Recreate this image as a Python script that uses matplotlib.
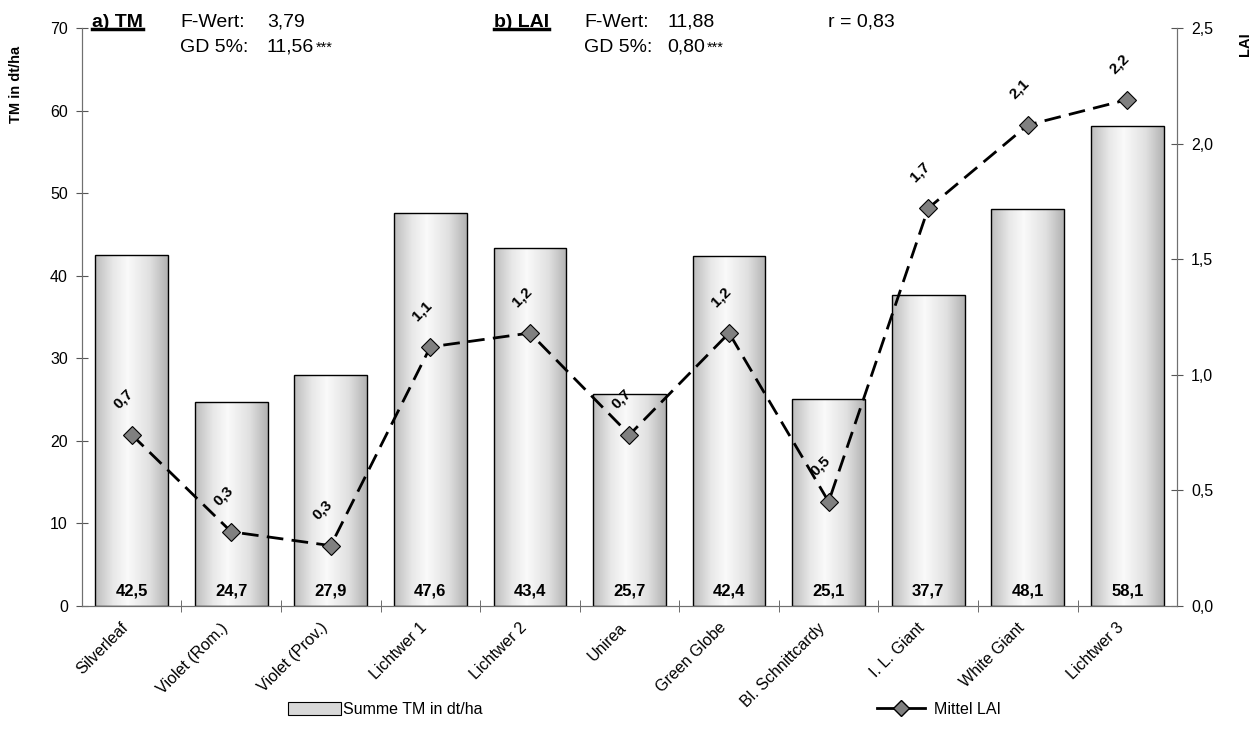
import matplotlib
matplotlib.use("Agg")
import matplotlib.pyplot as plt
import matplotlib.transforms as mtransforms
import numpy as np
from matplotlib.lines import Line2D
from matplotlib.patches import Rectangle

plt.rcParams["font.family"] = ["Liberation Sans", "DejaVu Sans"]
plt.rcParams["font.size"] = 11

sorten = ["Silverleaf", "Violet (Rom.)", "Violet (Prov.)", "Lichtwer 1", "Lichtwer 2", "Unirea",
          "Green Globe", "Bl. Schnittcardy", "I. L. Giant", "White Giant", "Lichtwer 3"]
tm = [42.5, 24.7, 27.9, 47.6, 43.4, 25.7, 42.4, 25.1, 37.7, 48.1, 58.1]
lai = [0.74, 0.32, 0.26, 1.12, 1.18, 0.74, 1.18, 0.45, 1.72, 2.08, 2.19]


def de(v, digits=1):
    return f"{v:.{digits}f}".replace(".", ",")


fig = plt.figure(figsize=(12.59, 7.36), dpi=100)
ax = fig.add_axes([0.065, 0.177, 0.870, 0.785])
ax2 = ax.twinx()

x = np.arange(len(sorten))
bars = ax.bar(x, tm, width=0.73, color="none", edgecolor="black", linewidth=1.0, zorder=2)

# horizontal gradient inside each bar
grad_cols = np.array([0.74, 0.91, 0.98, 0.88, 0.70])
stops = [0.0, 0.25, 0.45, 0.75, 1.0]
pos = np.linspace(0, 1, 200)
g = np.interp(pos, stops, grad_cols)
grad = np.stack([g, g, g], axis=-1)[None, :, :]
for b in bars:
    x0, w, h = b.get_x(), b.get_width(), b.get_height()
    im = ax.imshow(grad, extent=[x0, x0 + w, 0, h], aspect="auto", zorder=1, interpolation="bilinear")
    im.set_clip_path(b)

for xi, v in zip(x, tm):
    ax.annotate(de(v), (xi, 0), xytext=(0, 5), textcoords="offset points", ha="center", va="bottom",
                fontweight="bold", fontsize=12, zorder=5)

ax.set_xlim(-0.5, len(sorten) - 0.5)
ax.set_ylim(0, 70)
ax.set_yticks(range(0, 71, 10))
ax.set_xticks(x)
ax.set_xticks(x[:-1] + 0.5, minor=True)
ax.tick_params(axis="x", which="major", length=0, pad=6)
ax.tick_params(axis="x", which="minor", length=8, direction="inout", color="#555555")
ax.tick_params(axis="y", length=8, direction="inout", color="#555555", labelsize=11.5, pad=6)
ax.set_xticklabels(sorten, rotation=45, ha="right", va="top", rotation_mode="anchor", fontsize=11.5)
shift = mtransforms.ScaledTranslation(-11 / 100, -6 / 100, fig.dpi_scale_trans)
for lbl in ax.xaxis.get_majorticklabels():
    lbl.set_transform(lbl.get_transform() + shift)

ax2.plot(x, lai, linestyle=(0, (6, 3)), color="black", linewidth=2.0, marker="D", markersize=9,
         markerfacecolor="#808080", markeredgecolor="black", markeredgewidth=0.8, zorder=4)
for xi, v in zip(x, lai):
    ax2.annotate(de(v), (xi, v), xytext=(-6, 26), textcoords="offset points", ha="center", va="center",
                 rotation=45, fontweight="bold", fontsize=11)
ax2.set_ylim(0, 2.5)
ax2.set_yticks(np.arange(0, 2.51, 0.5))
ax2.set_yticklabels([de(t) for t in np.arange(0, 2.51, 0.5)])
ax2.tick_params(axis="y", length=8, direction="inout", color="#555555", labelsize=11.5, pad=6)

for a in (ax, ax2):
    a.spines["top"].set_visible(False)
    for s in ("left", "right", "bottom"):
        a.spines[s].set_color("#707070")

# axis titles near the top
fig.text(0.013, 0.885, "TM in dt/ha", rotation=90, fontweight="bold", ha="center", va="center", fontsize=10.5)
fig.text(0.989, 0.94, "LAI", rotation=90, fontweight="bold", ha="center", va="center", fontsize=10.5)

# statistics header
hdr = 14
ta = fig.text(0.073, 0.970, "a) TM", fontweight="bold", fontsize=hdr, ha="left", va="center")
tb = fig.text(0.392, 0.970, "b) LAI", fontweight="bold", fontsize=hdr, ha="left", va="center")
fig.text(0.143, 0.970, "F-Wert:", fontsize=hdr, ha="left", va="center")
fig.text(0.212, 0.970, "3,79", fontsize=hdr, ha="left", va="center")
fig.text(0.143, 0.936, "GD 5%:", fontsize=hdr, ha="left", va="center")
t1 = fig.text(0.212, 0.936, "11,56", fontsize=hdr, ha="left", va="center")
fig.text(0.4645, 0.970, "F-Wert:", fontsize=hdr, ha="left", va="center")
fig.text(0.530, 0.970, "11,88", fontsize=hdr, ha="left", va="center")
fig.text(0.4635, 0.936, "GD 5%:", fontsize=hdr, ha="left", va="center")
t2 = fig.text(0.530, 0.936, "0,80", fontsize=hdr, ha="left", va="center")
fig.text(0.658, 0.970, "r = 0,83", fontsize=hdr, ha="left", va="center")

fig.canvas.draw()
renderer = fig.canvas.get_renderer()
inv = fig.transFigure.inverted()
for t in (ta, tb):
    bb = t.get_window_extent(renderer).transformed(inv)
    fig.add_artist(Line2D([bb.x0, bb.x1], [bb.y0 + 0.002, bb.y0 + 0.002], color="black", linewidth=2.5,
                          transform=fig.transFigure))
for t in (t1, t2):
    bb = t.get_window_extent(renderer).transformed(inv)
    fig.text(bb.x1 + 0.001, bb.y1 - 0.003, "***", fontsize=10.5, ha="left", va="top")

# legend
bar_handle = Rectangle((0, 0), 1, 1, facecolor="#d8d8d8", edgecolor="black", linewidth=0.8)
line_handle = Line2D([], [], linestyle="-", color="black", linewidth=2.0, marker="D", markersize=8,
                     markerfacecolor="#808080", markeredgecolor="black")
fig.legend([bar_handle], ["Summe TM in dt/ha"], loc="center", bbox_to_anchor=(0.306, 0.036), frameon=False,
           handlelength=3.3, handleheight=0.8, handletextpad=0.1, fontsize=11.5)
fig.legend([line_handle], ["Mittel LAI"], loc="center", bbox_to_anchor=(0.746, 0.036), frameon=False,
           handlelength=3.0, handletextpad=0.6, fontsize=11.5)

fig.savefig("out.png", dpi=100)
